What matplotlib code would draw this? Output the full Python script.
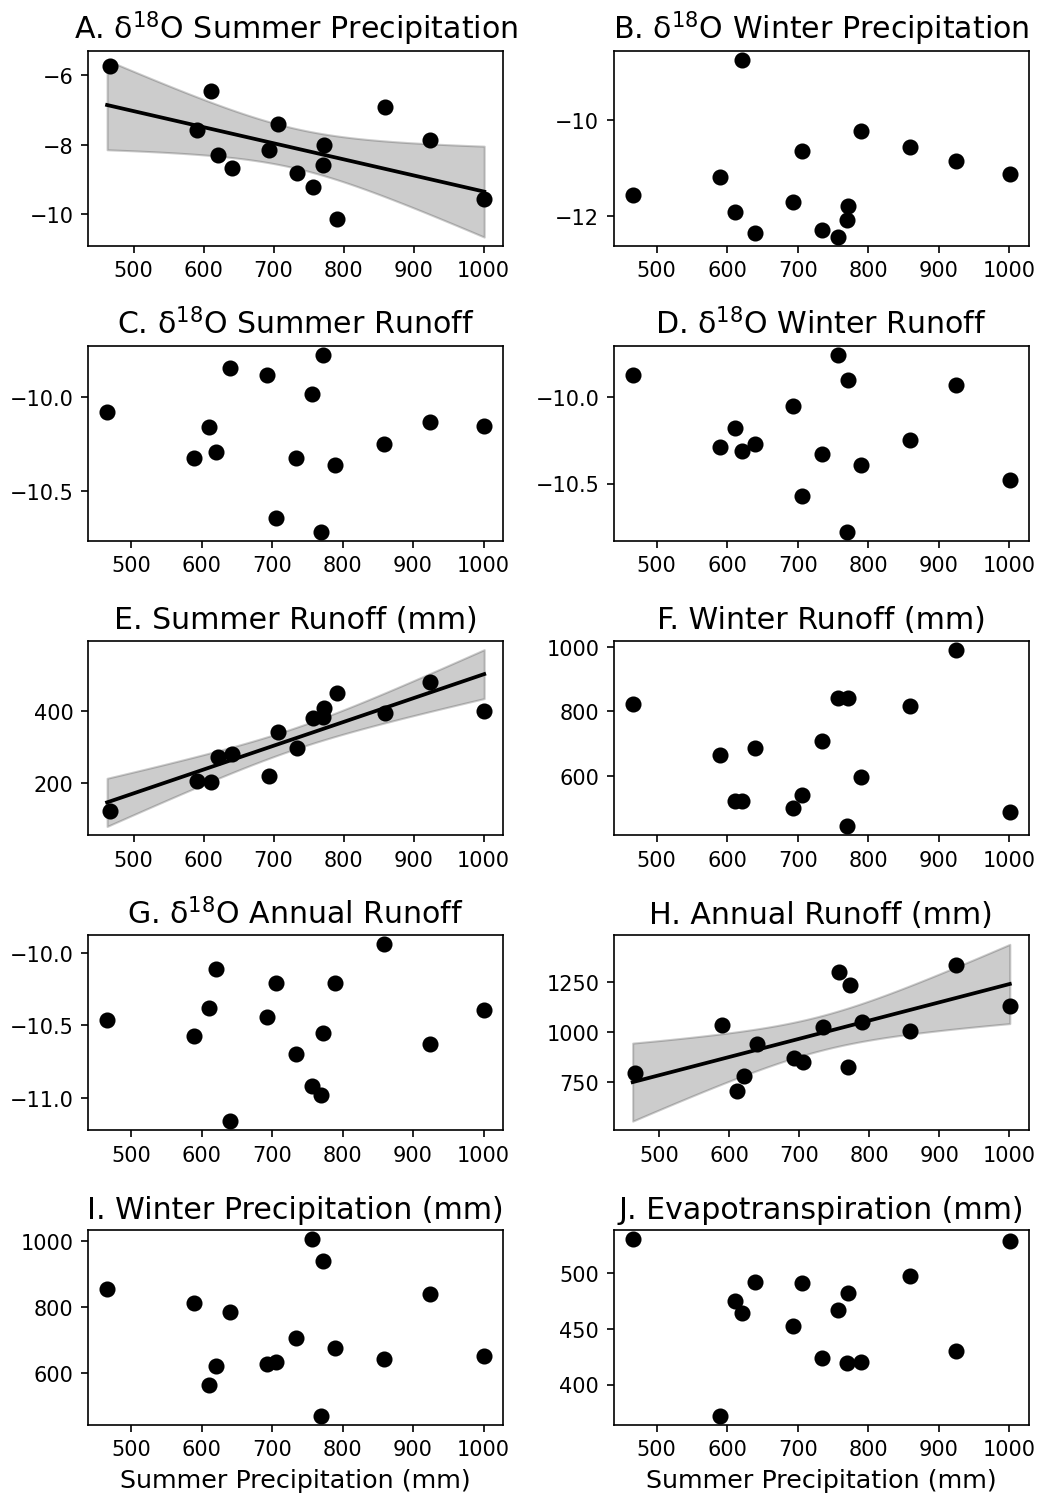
import numpy as np
import matplotlib
matplotlib.use("Agg")
import matplotlib.pyplot as plt

# summer precipitation (mm), shared x for every panel
summer_precip = [466, 590, 611, 621, 640, 693, 706, 734, 757, 770, 772, 790, 859, 924, 1001]

d18o_summer_precip = [-5.75, -7.57, -6.45, -8.30, -8.66, -8.14, -7.39, -8.80, -9.21, -8.59, -8.00, -10.14, -6.92, -7.86, -9.57]
d18o_winter_precip = [-11.56, -11.17, -11.90, -8.75, -12.35, -11.70, -10.63, -12.28, -12.43, -12.08, -11.79, -10.23, -10.55, -10.84, -11.11]
d18o_summer_runoff = [-10.08, -10.32, -10.16, -10.29, -9.845, -9.88, -10.64, -10.32, -9.98, -10.715, -9.774, -10.36, -10.25, -10.13, -10.15]
d18o_winter_runoff = [-9.87, -10.29, -10.18, -10.31, -10.27, -10.05, -10.57, -10.33, -9.754, -10.78, -9.90, -10.39, -10.25, -9.93, -10.48]
summer_runoff = [123, 206, 204, 273, 280, 221, 341, 299, 381, 383, 410, 450, 395, 481, 401]
winter_runoff = [824, 664, 522, 524, 687, 501, 541, 708, 840, 444, 842, 598, 818, 991, 490]
d18o_annual_runoff = [-10.46, -10.57, -10.38, -10.11, -11.16, -10.44, -10.21, -10.70, -10.92, -10.98, -10.55, -10.21, -9.94, -10.63, -10.39]
annual_runoff = [791, 1031, 705, 780, 937, 868, 849, 1023, 1300, 824, 1232, 1050, 1005, 1334, 1126]
winter_precip = [855, 813, 566, 623, 786, 627, 635, 707, 1005, 472, 940, 678, 643, 840, 652]
evapotranspiration = [530, 372, 475, 464, 492, 452, 491, 424, 467, 419, 482, 420, 497, 430, 528]

panels = [
    ('A. δ$^{18}$O Summer Precipitation', d18o_summer_precip, True),
    ('B. δ$^{18}$O Winter Precipitation', d18o_winter_precip, False),
    ('C. δ$^{18}$O Summer Runoff', d18o_summer_runoff, False),
    ('D. δ$^{18}$O Winter Runoff', d18o_winter_runoff, False),
    ('E. Summer Runoff (mm)', summer_runoff, True),
    ('F. Winter Runoff (mm)', winter_runoff, False),
    ('G. δ$^{18}$O Annual Runoff', d18o_annual_runoff, False),
    ('H. Annual Runoff (mm)', annual_runoff, True),
    ('I. Winter Precipitation (mm)', winter_precip, False),
    ('J. Evapotranspiration (mm)', evapotranspiration, False),
]


def reg_band(x, y, grid, t=2.160):
    """linear fit with 95% confidence band"""
    n = len(x)
    b, a = np.polyfit(x, y, 1)
    fit = a + b * grid
    resid = y - (a + b * x)
    s = np.sqrt(np.sum(resid ** 2) / (n - 2))
    xm = x.mean()
    se = s * np.sqrt(1.0 / n + (grid - xm) ** 2 / np.sum((x - xm) ** 2))
    return fit, fit - t * se, fit + t * se


fig, axes = plt.subplots(5, 2, figsize=(6.92, 9.973), dpi=150)
plt.subplots_adjust(left=0.085, right=0.991, top=0.965, bottom=0.047,
                    wspace=0.267, hspace=0.515)

x = np.array(summer_precip, dtype=float)
for ax, (title, vals, fit_line) in zip(axes.flat, panels):
    y = np.array(vals, dtype=float)
    ax.scatter(x, y, s=45, color='black', zorder=3)
    if fit_line:
        grid = np.linspace(x.min() - 4, x.max(), 100)
        fit, lo, hi = reg_band(x, y, grid)
        ax.fill_between(grid, lo, hi, color='black', alpha=0.2, lw=1)
        ax.plot(grid, fit, color='black', lw=1.8, zorder=4)
    ax.set_title(title, fontsize=14.4)
    ax.tick_params(labelsize=10)

for ax in axes[-1]:
    ax.set_xlabel('Summer Precipitation (mm)', fontsize=12.2)

plt.savefig('out.png', dpi=150)
